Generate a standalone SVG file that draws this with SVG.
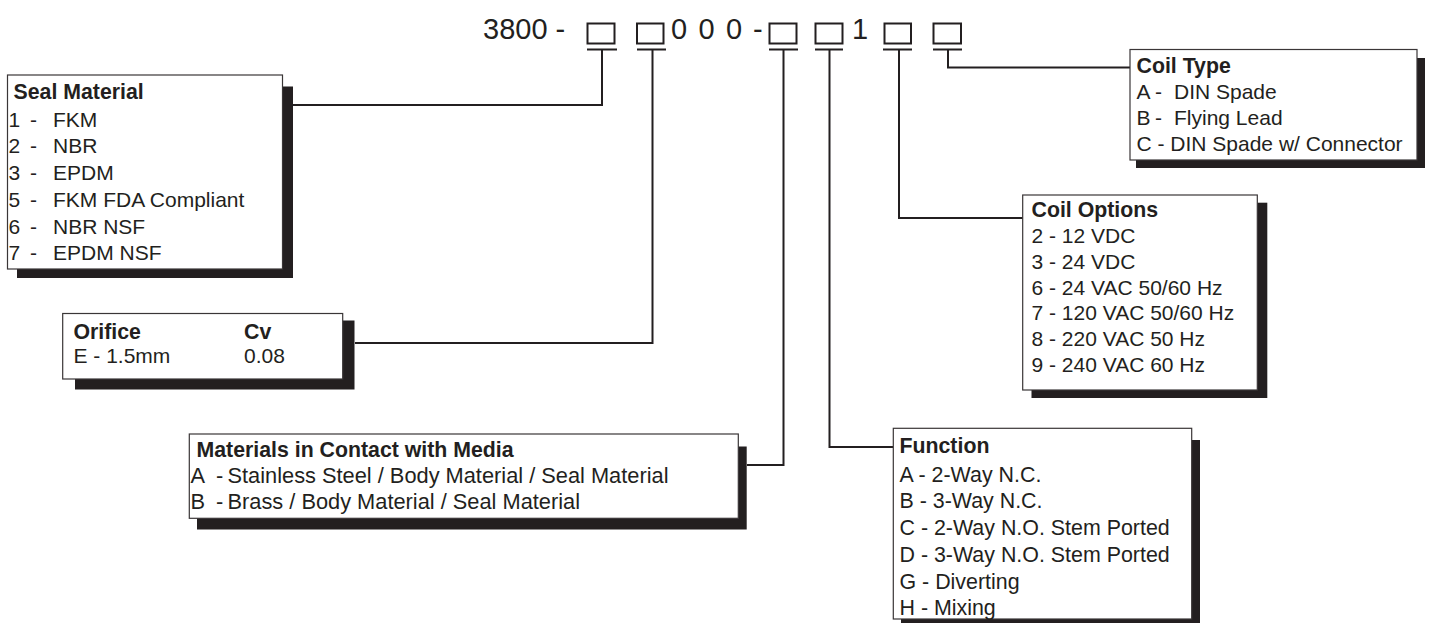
<svg xmlns="http://www.w3.org/2000/svg" width="1429" height="623" viewBox="0 0 1429 623">
<style>
  .t { font-family: "Liberation Sans", Arial, sans-serif; font-size: 21px; fill: #231f20; }
  .b { font-weight: bold; font-size: 21.3px; }
  .m { font-size: 21.8px; }
  .f { font-size: 21.4px; }
  .hdr { font-family: "Liberation Sans", Arial, sans-serif; font-size: 29px; fill: #231f20; }
  .box { fill: #ffffff; stroke: #3a3637; stroke-width: 1.2; }
  .shadow { fill: #231f20; }
  .sq { fill: none; stroke: #231f20; stroke-width: 2; }
  .ln { fill: none; stroke: #231f20; stroke-width: 2; }
</style>
<rect width="1429" height="623" fill="#ffffff"/>

<g id="header">
  <text class="hdr" x="483" y="38.5">3800 -</text>
  <text class="hdr" x="671" y="38.5">0</text>
  <text class="hdr" x="698.5" y="38.5">0</text>
  <text class="hdr" x="726" y="38.5">0</text>
  <text class="hdr" x="753" y="38.5">-</text>
  <text class="hdr" x="852" y="38.5">1</text>
  <rect class="sq" x="587.5" y="23.5" width="27" height="20"/>
  <rect class="sq" x="637" y="23.5" width="26.5" height="20"/>
  <rect class="sq" x="769.5" y="23.5" width="27" height="20"/>
  <rect class="sq" x="815.5" y="23.5" width="27" height="20"/>
  <rect class="sq" x="884.5" y="23.5" width="26.5" height="20"/>
  <rect class="sq" x="933.5" y="23.5" width="27.5" height="20"/>
</g>

<g id="connectors">
  <path class="ln" d="M587,49.5 H617 M637,49.5 H666 M769,49.5 H798 M815,49.5 H843 M883,49.5 H912 M933,49.5 H962"/>
  <path class="ln" d="M602,49.5 V105 H293"/>
  <path class="ln" d="M652.5,49.5 V343 H355"/>
  <path class="ln" d="M783.5,49.5 V465 H747"/>
  <path class="ln" d="M829.5,49.5 V447 H893"/>
  <path class="ln" d="M899,49.5 V218 H1023"/>
  <path class="ln" d="M948,49.5 V67.5 H1130"/>
</g>

<g id="seal-material">
  <rect class="shadow" x="17" y="86.5" width="276" height="191.5"/>
  <rect class="box" x="7.5" y="75" width="275" height="194"/>
  <text class="t b" x="13.5" y="99">Seal Material</text>
  <text class="t" y="126.7"><tspan x="8.5">1</tspan><tspan x="30">-</tspan><tspan x="53">FKM</tspan></text>
  <text class="t" y="153.4"><tspan x="8.5">2</tspan><tspan x="30">-</tspan><tspan x="53">NBR</tspan></text>
  <text class="t" y="180.1"><tspan x="8.5">3</tspan><tspan x="30">-</tspan><tspan x="53">EPDM</tspan></text>
  <text class="t" y="206.8"><tspan x="8.5">5</tspan><tspan x="30">-</tspan><tspan x="53">FKM FDA Compliant</tspan></text>
  <text class="t" y="233.5"><tspan x="8.5">6</tspan><tspan x="30">-</tspan><tspan x="53">NBR NSF</tspan></text>
  <text class="t" y="260.2"><tspan x="8.5">7</tspan><tspan x="30">-</tspan><tspan x="53">EPDM NSF</tspan></text>
</g>

<g id="orifice">
  <rect class="shadow" x="75" y="320.5" width="279.5" height="69"/>
  <rect class="box" x="62.7" y="313.5" width="280" height="65.5"/>
  <text class="t b" x="73.5" y="339">Orifice</text>
  <text class="t b" x="244" y="339">Cv</text>
  <text class="t" x="73.5" y="363.3">E - 1.5mm</text>
  <text class="t" x="244" y="363.3">0.08</text>
</g>

<g id="materials">
  <rect class="shadow" x="197" y="446.5" width="549.7" height="83"/>
  <rect class="box" x="189.3" y="434" width="549" height="84.3"/>
  <text class="t b" x="196.5" y="456.7">Materials in Contact with Media</text>
  <text class="t m" y="483"><tspan x="190.5">A</tspan><tspan x="216">-</tspan><tspan x="227.5">Stainless Steel / Body Material / Seal Material</tspan></text>
  <text class="t m" y="509.3"><tspan x="190.5">B</tspan><tspan x="216">-</tspan><tspan x="227.5">Brass / Body Material / Seal Material</tspan></text>
</g>

<g id="function">
  <rect class="shadow" x="901" y="440" width="299" height="190"/>
  <rect class="box" x="893.3" y="428.3" width="298.4" height="190.7"/>
  <text class="t b" x="899.5" y="453.3">Function</text>
  <text class="t f" x="899.5" y="481.7">A - 2-Way N.C.</text>
  <text class="t f" x="899.5" y="508.4">B - 3-Way N.C.</text>
  <text class="t f" x="899.5" y="535.1">C - 2-Way N.O. Stem Ported</text>
  <text class="t f" x="899.5" y="561.8">D - 3-Way N.O. Stem Ported</text>
  <text class="t f" x="899.5" y="588.5">G - Diverting</text>
  <text class="t f" x="899.5" y="615">H - Mixing</text>
</g>

<g id="coil-options">
  <rect class="shadow" x="1031.5" y="202.7" width="235.8" height="195.3"/>
  <rect class="box" x="1022.7" y="195" width="234.6" height="195"/>
  <text class="t b" x="1031.5" y="216.7">Coil Options</text>
  <text class="t" x="1031.5" y="243.3">2 - 12 VDC</text>
  <text class="t" x="1031.5" y="269">3 - 24 VDC</text>
  <text class="t" x="1031.5" y="294.7">6 - 24 VAC 50/60 Hz</text>
  <text class="t" x="1031.5" y="320.4">7 - 120 VAC 50/60 Hz</text>
  <text class="t" x="1031.5" y="346">8 - 220 VAC 50 Hz</text>
  <text class="t" x="1031.5" y="371.7">9 - 240 VAC 60 Hz</text>
</g>

<g id="coil-type">
  <rect class="shadow" x="1136" y="58" width="289" height="110"/>
  <rect class="box" x="1130" y="49.5" width="287" height="110.5"/>
  <text class="t b" x="1136.5" y="73">Coil Type</text>
  <text class="t" y="98.5"><tspan x="1136.5">A</tspan><tspan x="1155">-</tspan><tspan x="1174">DIN Spade</tspan></text>
  <text class="t" y="124.5"><tspan x="1136.5">B</tspan><tspan x="1155">-</tspan><tspan x="1174">Flying Lead</tspan></text>
  <text class="t" x="1136.5" y="151">C - DIN Spade w/ Connector</text>
</g>
</svg>
